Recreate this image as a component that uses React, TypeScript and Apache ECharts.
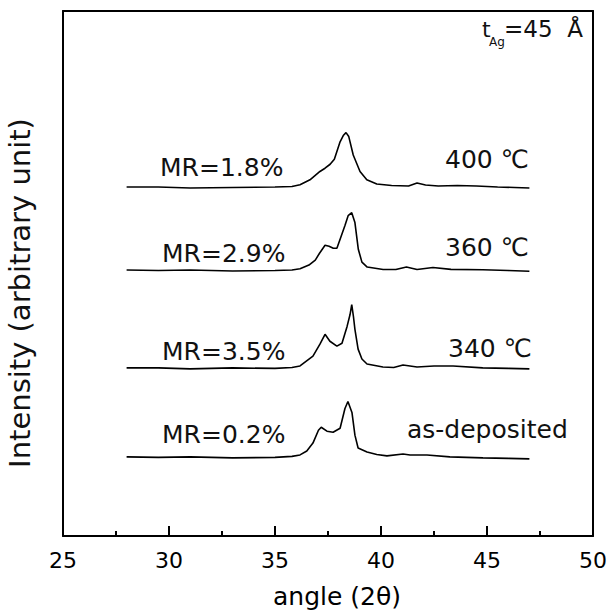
import React, { useEffect, useRef } from "react";
import * as echarts from "echarts";

// 2θ angles (deg) and intensities (arbitrary units, curves already offset vertically)
const angle400 = [28.0, 29.5, 31.0, 33.0, 35.0, 35.8, 36.18, 36.65, 37.12, 37.36, 37.6, 37.8, 38.07, 38.22, 38.35, 38.48, 38.69, 39.01, 39.33, 39.8, 40.5, 41.3, 41.7, 42.1, 42.7, 43.6, 44.5, 45.5, 46.3, 47.0];
const int400 = [353, 353, 352, 352.5, 353, 353.5, 355.3, 360.3, 368.7, 372, 376, 381, 398.7, 405, 408, 404, 385.3, 368.7, 360.3, 356, 354.5, 354, 357, 355, 354, 354.5, 354, 353, 352.5, 352];

const angle360 = [28.0, 29.5, 31.0, 33.0, 35.0, 35.8, 36.18, 36.6, 36.9, 37.1, 37.36, 37.55, 37.75, 37.92, 38.1, 38.3, 38.45, 38.62, 38.77, 38.93, 39.1, 39.35, 40.1, 40.7, 41.2, 41.7, 42.45, 43.3, 44.8, 46.0, 47.0];
const int360 = [269, 268.5, 269, 268, 268.5, 269, 270.3, 274, 279, 286, 294, 293, 291, 291, 302, 314, 324, 327, 317, 290, 277, 272, 269.5, 269.5, 272, 269.5, 271.5, 269.7, 269.3, 268.5, 267.7];

const angle340 = [28.0, 29.5, 31.0, 33.0, 35.0, 35.8, 36.18, 36.79, 37.12, 37.36, 37.59, 37.92, 38.16, 38.4, 38.54, 38.62, 38.7, 38.77, 38.92, 39.1, 39.34, 40.09, 40.6, 41.04, 41.7, 42.5, 43.4, 44.8, 46.0, 47.0];
const int340 = [170, 170, 169, 170, 169.5, 170.5, 172, 182, 194, 204, 197, 192, 195, 212, 224, 234, 222, 209, 189, 179, 174, 171, 170.5, 173, 171, 172, 172, 170, 169.5, 169];

const angleAsDep = [28.0, 29.5, 31.0, 33.0, 35.0, 35.8, 36.18, 36.5, 36.79, 37.05, 37.18, 37.45, 37.74, 38.07, 38.3, 38.44, 38.63, 38.77, 38.92, 39.34, 39.8, 40.28, 41.04, 41.37, 42.17, 43.25, 44.81, 46.0, 47.0];
const intAsDep = [80, 79.5, 80, 79, 79.5, 80.5, 82, 86, 94, 107, 110, 106, 105, 109, 129, 136, 125, 102, 89, 85, 82.5, 81, 83, 82, 82, 80, 79, 78.5, 78];

const seriesNames = ["400 ℃", "360 ℃", "340 ℃", "as-deposited"];
const mrLabels = ["MR=1.8%", "MR=2.9%", "MR=3.5%", "MR=0.2%"];
const xTitle = "angle (2θ)";
const yTitle = "Intensity (arbitrary unit)";

const FONT = "DejaVu Sans";

export default function App() {
  const ref = useRef<HTMLDivElement>(null);
  useEffect(() => {
    const chart = echarts.init(ref.current!, null, { renderer: "svg" });
    const pairs = (a: number[], v: number[]) => a.map((x, i) => [x, v[i]]);
    const curves = [
      pairs(angle400, int400),
      pairs(angle360, int360),
      pairs(angle340, int340),
      pairs(angleAsDep, intAsDep),
    ];
    const lineAxis = () => ({ show: true, onZero: false, lineStyle: { color: "#000", width: 2 } });
    const txt = (text: string, x: number, y: number, size: number, align = "left") => ({
      type: "text",
      x,
      y,
      silent: true,
      style: {
        text,
        fill: "#111",
        fontFamily: FONT,
        fontSize: size,
        align,
        verticalAlign: "middle",
      },
    });
    const mrPos = [
      [160, 167],
      [162, 253],
      [162, 351],
      [162, 434],
    ];
    const tPos = [
      [445, 159],
      [445, 247],
      [448, 348],
      [407, 429],
    ];
    chart.setOption({
      animation: false,
      backgroundColor: "#fff",
      grid: { left: 63, right: 17, top: 11, bottom: 72 },
      xAxis: [
        {
          type: "value",
          min: 25,
          max: 50,
          interval: 5,
          position: "bottom",
          axisLine: lineAxis(),
          axisTick: { show: true, inside: true, length: 10, lineStyle: { color: "#000", width: 2 } },
          minorTick: { show: true, splitNumber: 2, length: 5, lineStyle: { color: "#000", width: 2 } },
          splitLine: { show: false },
          minorSplitLine: { show: false },
          axisLabel: { show: true, color: "#000", fontFamily: FONT, fontSize: 22, margin: 13 },
          name: xTitle,
          nameLocation: "middle",
          nameGap: 48,
          nameTextStyle: { color: "#000", fontFamily: FONT, fontSize: 25, padding: [0, 0, 0, 18] },
        },
        {
          type: "value",
          min: 25,
          max: 50,
          position: "top",
          axisLine: lineAxis(),
          axisTick: { show: false },
          axisLabel: { show: false },
          splitLine: { show: false },
        },
      ],
      yAxis: [
        {
          type: "value",
          min: 0,
          max: 531,
          position: "left",
          axisLine: lineAxis(),
          axisTick: { show: false },
          axisLabel: { show: false },
          splitLine: { show: false },
        },
        {
          type: "value",
          min: 0,
          max: 531,
          position: "right",
          axisLine: lineAxis(),
          axisTick: { show: false },
          axisLabel: { show: false },
          splitLine: { show: false },
        },
      ],
      series: curves.map((d, i) => ({
        name: seriesNames[i],
        type: "line",
        data: d,
        showSymbol: false,
        symbol: "none",
        silent: true,
        lineStyle: { color: "#000", width: 1.6 },
      })),
      graphic: [
        {
          type: "text",
          x: 20,
          y: 293,
          rotation: Math.PI / 2,
          silent: true,
          style: {
            text: yTitle,
            fill: "#111",
            fontFamily: FONT,
            fontSize: 29,
            align: "center",
            verticalAlign: "middle",
          },
        },
        ...mrLabels.map((t, i) => txt(t, mrPos[i][0], mrPos[i][1], 25)),
        ...seriesNames.map((t, i) => txt(t, tPos[i][0], tPos[i][1], 25)),
        txt("t", 482, 29, 22),
        txt("Ag", 489, 42, 12),
        txt("=45  Å", 504, 29, 23),
      ],
    });
    return () => chart.dispose();
  }, []);
  return (
    <div
      ref={ref}
      style={{ position: "fixed", left: 0, top: 0, width: 610, height: 614, background: "#fff" }}
    />
  );
}
